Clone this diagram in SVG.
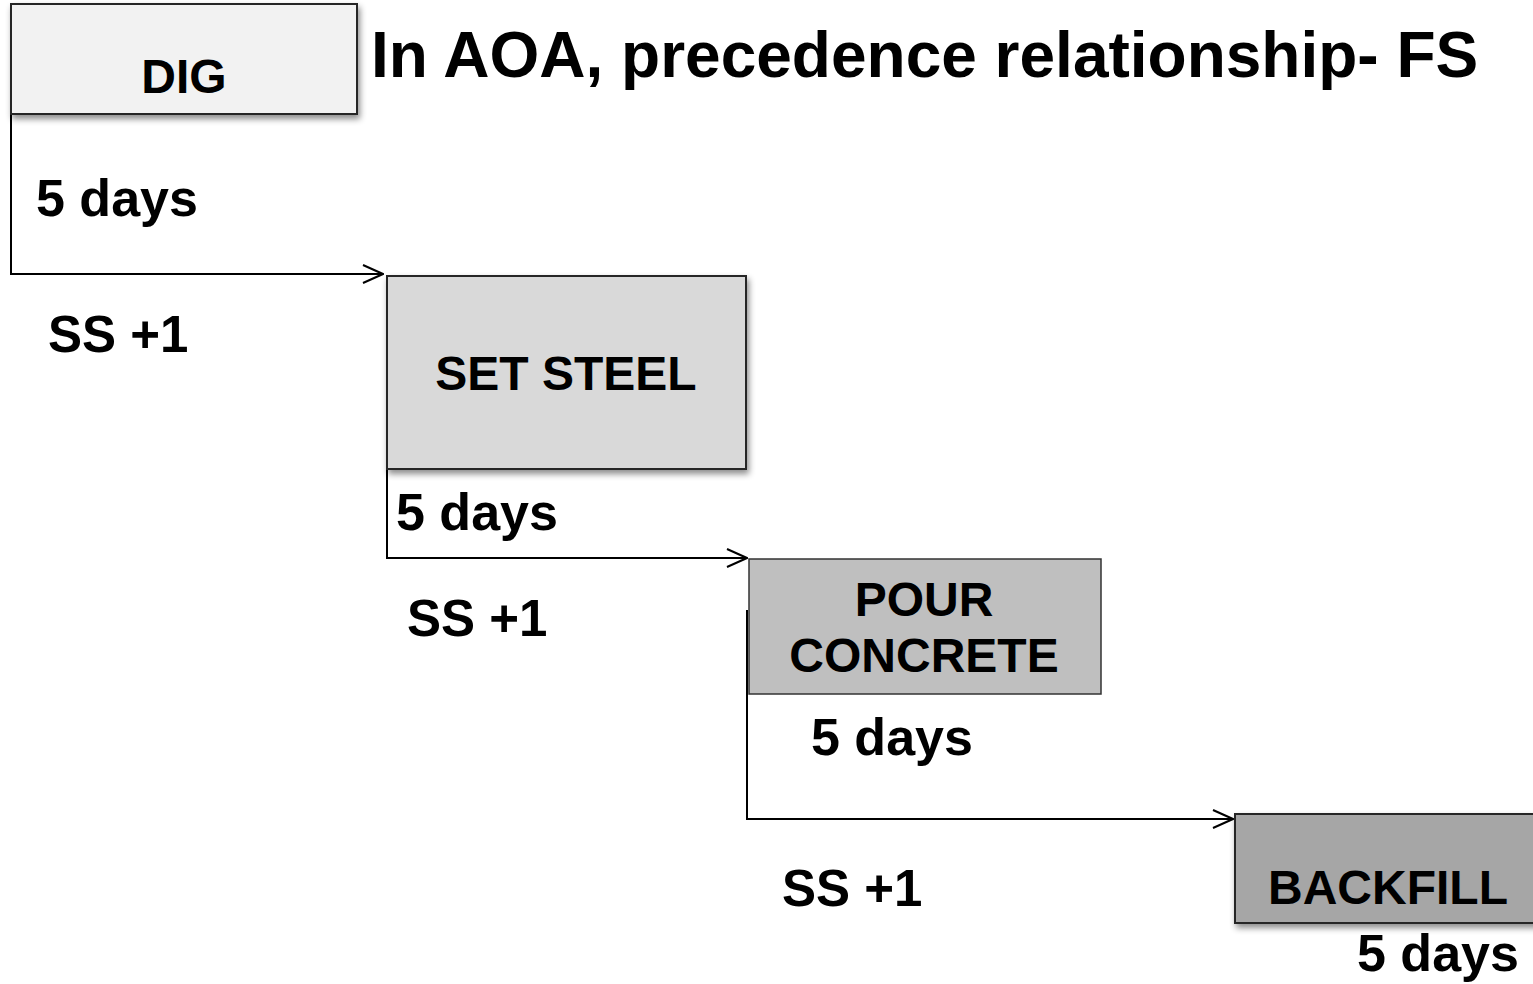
<svg xmlns="http://www.w3.org/2000/svg" width="1533" height="984" viewBox="0 0 1533 984">
  <defs>
    <filter id="shadow" x="-10%" y="-10%" width="130%" height="140%">
      <feDropShadow dx="2" dy="4" stdDeviation="3" flood-color="#000" flood-opacity="0.45"/>
    </filter>
    <marker id="open-arrow" viewBox="0 0 22 20" refX="21" refY="10" markerWidth="22" markerHeight="20" markerUnits="userSpaceOnUse" orient="auto">
      <path d="M1,1 L21,10 L1,19" fill="none" stroke="#000" stroke-width="2"/>
    </marker>
  </defs>
  <style>
    text { font-family: "Liberation Sans", Arial, sans-serif; font-weight: bold; fill: #000; }
    .box { stroke: #262626; stroke-width: 2; }
    .label { font-size: 48px; text-anchor: middle; }
    .note { font-size: 52px; }
    .lag { font-size: 51px; }
    .link { fill: none; stroke: #000; stroke-width: 2; marker-end: url(#open-arrow); }
  </style>

  <rect width="1533" height="984" fill="#fff"/>

  <text id="title" x="371" y="77" font-size="64px">In AOA, precedence relationship- FS</text>

  <!-- start-to-start links between activities -->
  <g id="connectors">
    <path class="link" d="M11,114 V274 H383"/>
    <path class="link" d="M387,469 V558 H747"/>
    <path class="link" d="M747,610 V819 H1233"/>
  </g>

  <g id="dig">
    <rect class="box" x="11" y="4" width="346" height="110" fill="#f2f2f2" filter="url(#shadow)"/>
    <text class="label" x="184" y="93" font-size="46px">DIG</text>
  </g>

  <g id="set-steel">
    <rect class="box" x="387" y="276" width="359" height="193" fill="#d9d9d9" filter="url(#shadow)"/>
    <text class="label" x="566" y="390">SET STEEL</text>
  </g>

  <g id="pour-concrete">
    <rect x="749" y="559" width="352" height="135" fill="#bfbfbf" stroke="#333" stroke-width="1.5"/>
    <text class="label" x="924" y="616">POUR</text>
    <text class="label" x="924" y="672">CONCRETE</text>
  </g>

  <g id="backfill">
    <rect class="box" x="1235" y="814" width="310" height="109" fill="#a6a6a6" filter="url(#shadow)"/>
    <text class="label" x="1388" y="904">BACKFILL</text>
  </g>

  <g id="durations">
    <text class="note" x="36" y="216">5 days</text>
    <text class="note" x="396" y="530">5 days</text>
    <text class="note" x="811" y="755">5 days</text>
    <text class="note" x="1357" y="971">5 days</text>
  </g>

  <g id="lags">
    <text class="lag" x="48" y="352">SS +1</text>
    <text class="lag" x="407" y="636">SS +1</text>
    <text class="lag" x="782" y="906">SS +1</text>
  </g>
</svg>
